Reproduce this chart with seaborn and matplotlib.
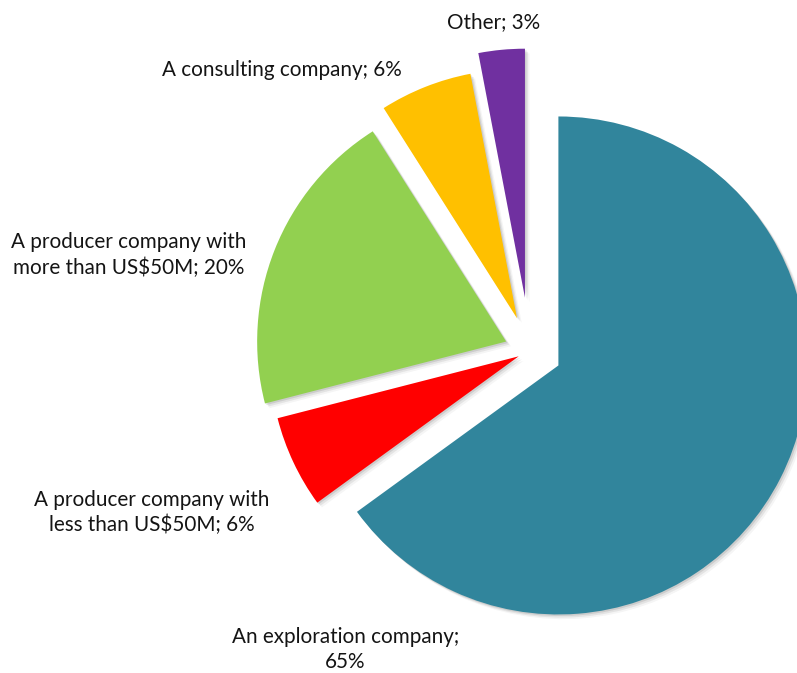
import matplotlib
matplotlib.use("Agg")
import matplotlib.pyplot as plt
from matplotlib.patches import Shadow
import seaborn as sns

# Survey: type of company respondents work for
categories = [
    "An exploration company",
    "A producer company with\nless than US$50M",
    "A producer company with\nmore than US$50M",
    "A consulting company",
    "Other",
]
shares = [65, 6, 20, 6, 3]
separators = ["\n", " ", " ", " ", " "]

colors = ["#31859C", "#FF0000", "#92D050", "#FFC000", "#7030A0"]
explode = [0.128, 0.05, 0.103, 0.141, 0.215]

sns.set_theme(style="white")
plt.rcParams["font.family"] = ["Lato", "DejaVu Sans"]

W, H = 797, 673
fig = plt.figure(figsize=(W / 100, H / 100), dpi=100)
fig.patch.set_facecolor("white")
ax = fig.add_axes([0, 0, 1, 1])

wedges, _ = ax.pie(
    shares,
    colors=colors,
    explode=explode,
    startangle=90,
    counterclock=False,
    radius=1,
    wedgeprops=dict(linewidth=0),
)

# soft drop shadow under each slice
for w in wedges:
    w.set_zorder(3)
    for k, a in ((1, 0.16), (2, 0.11), (3, 0.06)):
        s = Shadow(w, 0.0045 * k, -0.0045 * k, facecolor="0.35", alpha=a,
                   linewidth=0)
        s.set_zorder(2)
        ax.add_patch(s)

# pie centre sits at (530, 351) px with a 249 px radius
cx, cy, R = 530, 351, 249
ax.set_xlim(-cx / R, (W - cx) / R)
ax.set_ylim(-(H - cy) / R, cy / R)
ax.set_aspect("equal", adjustable="datalim")
ax.axis("off")

# label anchors: centre x and baseline of last line, in pixels from top-left
label_pos = [(345.5, 668.3), (152, 531.5), (129, 274), (281.5, 76), (493.5, 28.3)]
for cat, val, sep, (px, py) in zip(categories, shares, separators, label_pos):
    fig.text(px / W, 1 - py / H, f"{cat};{sep}{val}%", ha="center",
             va="baseline", fontsize=14.9, color="#141414", linespacing=1.33,
             multialignment="center")

fig.savefig("out.png", dpi=100, facecolor="white")
